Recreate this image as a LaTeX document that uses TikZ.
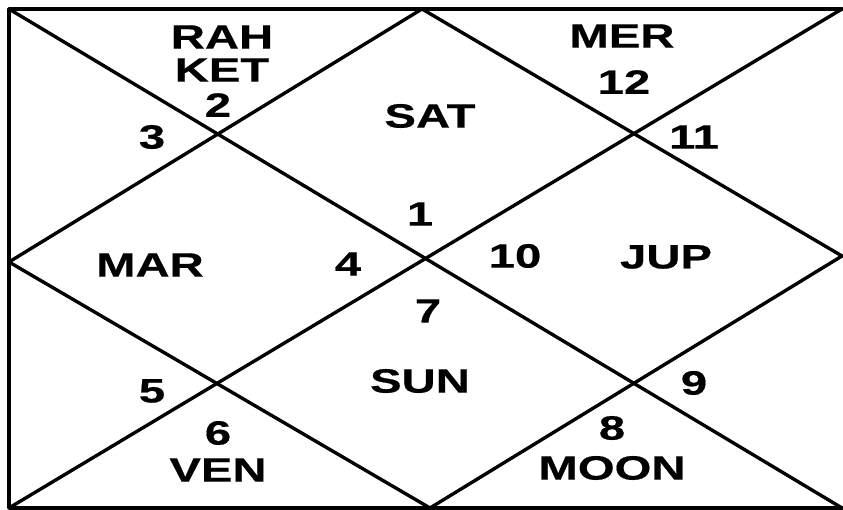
\documentclass[tikz,border=0pt]{standalone}
\usepackage{fontspec}
\setmainfont{Liberation Sans}
\newfontfamily\chartfont[FakeStretch=1.4, FakeBold=0.5]{Liberation Sans}
\usetikzlibrary{positioning}
\tikzset{
    chartline/.style={
        line width=2.4pt,
        line cap=round,
        line join=round
    },
    house/.style={
        font=\chartfont\fontsize{24}{26}\selectfont\bfseries,
        inner sep=0pt
    }
}

\begin{document}
\begin{tikzpicture}[x=0.025cm, y=-0.025cm]

\useasboundingbox (0,0) rectangle (843,510);

% corners and midpoints of the chart
\coordinate (tl) at (9,9);
\coordinate (tr) at (842,9);
\coordinate (bl) at (9,508);
\coordinate (br) at (842,508);
\coordinate (tm) at (422,9);
\coordinate (bm) at (430,508);
\coordinate (lm) at (9,262);
\coordinate (rm) at (842,256);

% frame and diagonals
\draw[chartline] (tr) -- (tl) -- (bl) -- (br);
\draw[chartline] (tl) -- (br);
\draw[chartline] (bl) -- (tr);
\draw[chartline] (tm) -- (rm) -- (bm) -- (lm) -- cycle;

% houses
\node[house] (rah) at (222,37) {RAH};
\node[house] (ket) at (222,70) {KET};
\node[house] (h2) at (218,105) {2};
\node[house] (h3) at (152,137) {3};
\node[house] (sat) at (430,116) {SAT};
\node[house] (mer) at (622,36) {MER};
\node[house] (h12) at (624,82) {12};
\node[house] (h11) at (694,137) {11};
\node[house] (h1) at (420,214) {1};
\node[house] (mar) at (150,265) {MAR};
\node[house] (h4) at (348,264) {4};
\node[house] (h10) at (515,256) {10};
\node[house] (jup) at (666,257) {JUP};
\node[house] (h7) at (428,311) {7};
\node[house] (sun) at (420,381) {SUN};
\node[house] (h5) at (152,391) {5};
\node[house] (h9) at (694,383) {9};
\node[house] (h6) at (218,433) {6};
\node[house] (h8) at (612,428) {8};
\node[house] (ven) at (218,470) {VEN};
\node[house] (moon) at (612,468) {MOON};

\end{tikzpicture}
\end{document}
